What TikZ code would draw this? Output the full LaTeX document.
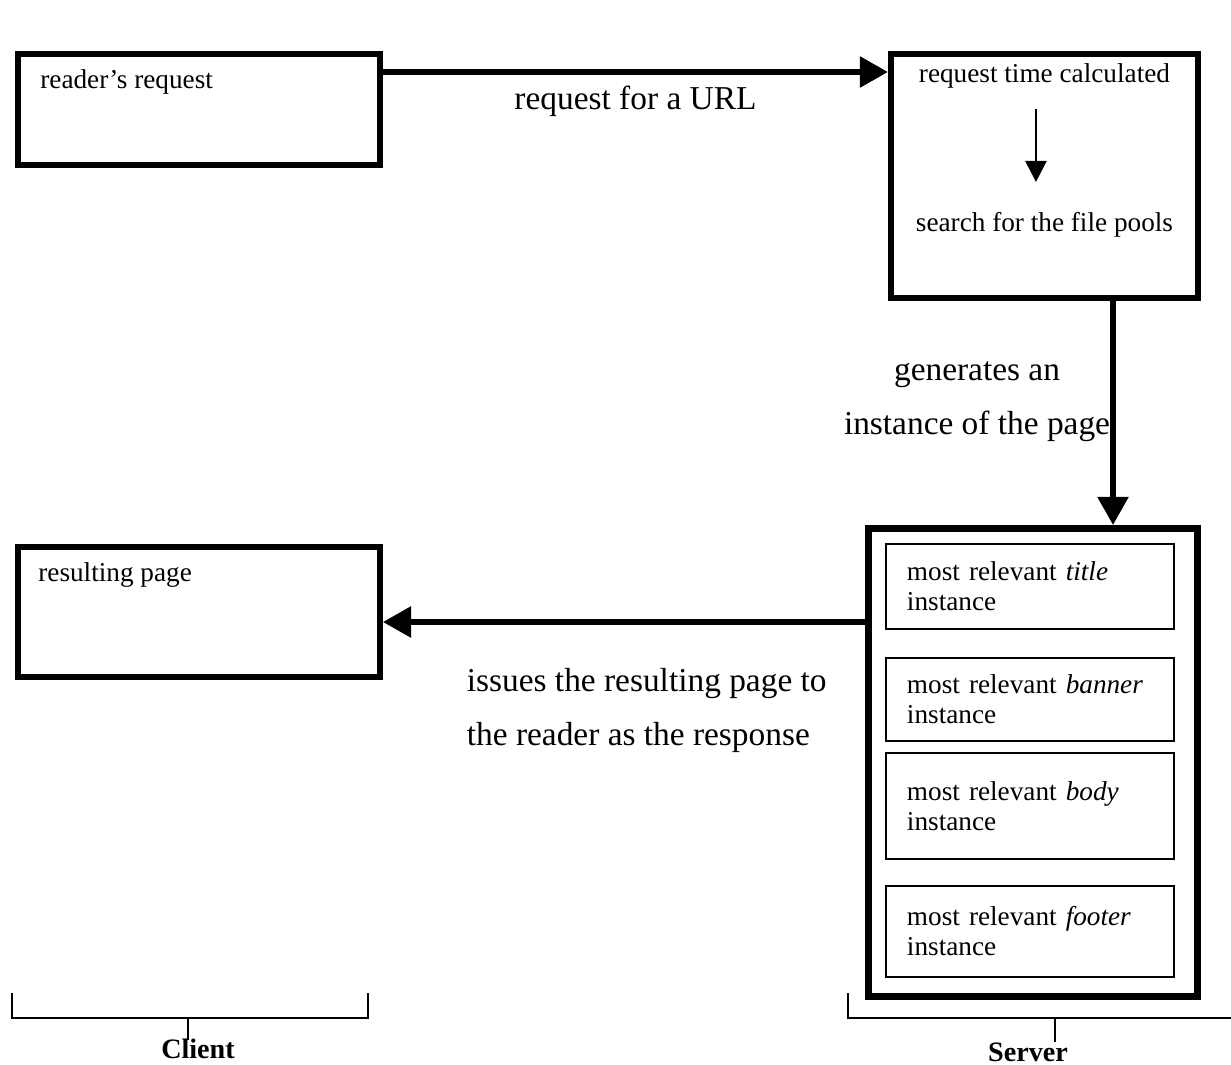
\documentclass[tikz,border=0pt]{standalone}
\usepackage{fontspec}
\setmainfont{Liberation Serif}
\usetikzlibrary{arrows.meta,positioning}

\begin{document}
\begin{tikzpicture}[
    x=0.02cm, y=-0.02cm,
    box/.style={draw, line width=3.4pt, inner sep=0pt},
    serverbox/.style={box, line width=4pt},
    partbox/.style={draw, line width=1.1pt, text width=4.92cm, inner xsep=0.42cm, inner ysep=0pt, align=left, font=\fontsize{15.5}{17}\selectfont},
    boxtext/.style={inner sep=0pt, font=\fontsize{15.5}{17}\selectfont},
    biglabel/.style={inner sep=0pt, font=\fontsize{19}{31}\selectfont},
    sidelabel/.style={inner sep=0pt, font=\fontsize{16}{18}\selectfont\bfseries},
    bigarrow/.style={-{Triangle[length=16pt, width=17pt]}, line width=3.4pt},
    smallarrow/.style={-{Triangle[length=12pt, width=12pt]}, line width=1.4pt},
    bracket/.style={line width=0.8pt},
]
    \useasboundingbox (0,0) rectangle (1231,1065);

    % Client boxes
    \node[box, anchor=north west, minimum width=7.24cm, minimum height=2.22cm] (reader) at (15,51) {};
    \node[boxtext, below right=0.36cm and 0.5cm of reader.north west] (readertext) {reader's request};

    \node[box, anchor=north west, minimum width=7.24cm, minimum height=2.60cm] (result) at (15,544) {};
    \node[boxtext, below right=0.36cm and 0.46cm of result.north west] (resulttext) {resulting page};

    % Server: request handling
    \node[box, anchor=north west, minimum width=6.14cm, minimum height=4.88cm] (calc) at (888,51) {};
    \node[boxtext, below=0.24cm of calc.north] (reqtime) {request time calculated};
    \node[boxtext, below=3.22cm of calc.north] (search) {search for the file pools};
    \draw[smallarrow, shorten <=0.42cm, shorten >=0.6cm]
        ([xshift=-0.17cm]reqtime.south) -- ([xshift=-0.17cm]reqtime.south |- search.north);

    % Server: page instance
    \node[serverbox, anchor=north west, minimum width=6.58cm, minimum height=9.36cm] (server) at (865,525) {};
    \node[partbox, anchor=north west, minimum height=1.70cm] (ptitle) at (885,543) {most relevant \textit{title}\\instance};
    \node[partbox, anchor=north west, minimum height=1.66cm] (pbanner) at (885,657) {most relevant \textit{banner}\\instance};
    \node[partbox, anchor=north west, minimum height=2.12cm] (pbody) at (885,752) {most relevant \textit{body}\\instance};
    \node[partbox, anchor=north west, minimum height=1.82cm] (pfooter) at (885,885) {most relevant \textit{footer}\\instance};

    % Connectors
    \coordinate (toprow) at (0,72);
    \coordinate (downcol) at (1113,0);
    \coordinate (backrow) at (0,622);
    \draw[bigarrow] (reader.east |- toprow) -- node[biglabel, below=0.22cm] (urllabel) {request for a URL} (calc.west |- toprow);
    \draw[bigarrow] (calc.south -| downcol) -- node[biglabel, left, pos=0.45, align=center] (genlabel) {generates an\\instance of the page} (server.north -| downcol);
    \draw[bigarrow] (server.west |- backrow) -- node[biglabel, pos=0.832, below=0.86cm, anchor=north west, align=left] (issuelabel) {issues the resulting page to\\the reader as the response} (result.east |- backrow);

    % Brackets
    \node[sidelabel] (client) at (198,1049) {Client};
    \draw[bracket] (12,993) |- (368,1018) -- (368,993);
    \draw[bracket] (188,1018) -- (188,1040);

    \node[sidelabel] (serverlabel) at (1028,1052) {Server};
    \draw[bracket] (848,993) |- (1231,1018);
    \draw[bracket] (1055,1018) -- (1055,1042);
\end{tikzpicture}
\end{document}
